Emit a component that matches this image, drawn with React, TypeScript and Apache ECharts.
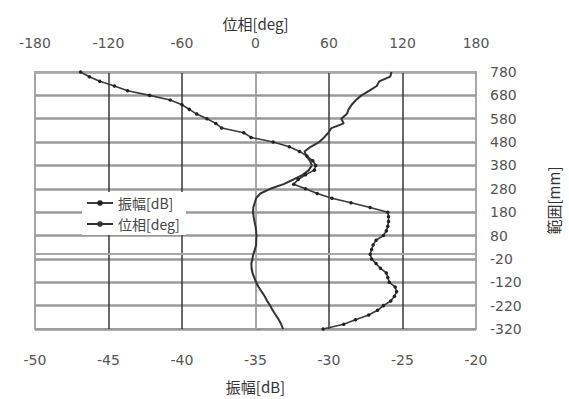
import React, { useEffect, useRef } from "react";
import * as echarts from "echarts";

const rangeMm = [
  780, 760, 740, 720, 700, 680, 660, 640, 620, 600,
  580, 560, 540, 520, 500, 480, 460, 440, 420, 400,
  380, 360, 340, 320, 300, 280, 260, 240, 220, 200,
  180, 160, 140, 120, 100, 80, 60, 40, 20, 0,
  -20, -40, -60, -80, -100, -120, -140, -160, -180, -200,
  -220, -240, -260, -280, -300, -320,
];

const amplitudeDb = [
  -46.9, -46.3, -45.6, -44.6, -43.7, -42.2, -40.8, -40.0, -39.5, -39.0,
  -38.3, -37.7, -37.3, -35.8, -35.3, -33.8, -32.7, -32.0, -31.5, -31.1,
  -30.9, -31.0, -31.6, -32.1, -32.4, -31.6, -30.8, -29.8, -28.5, -27.2,
  -26.0, -25.95, -25.95, -26.0, -26.1, -26.3, -26.8, -27.0, -27.1, -27.2,
  -27.1, -26.8, -26.5, -26.1, -26.0, -25.9, -25.5, -25.4, -25.55, -25.8,
  -26.3, -26.7, -27.3, -28.2, -29.0, -30.4,
];

const phaseDeg = [
  111, 110, 101, 99, 93, 86.5, 82, 78.5, 76, 74.5,
  70, 72, 62, 59.5, 56, 52, 45, 40, 41.5, 44.5,
  46, 43.5, 38.5, 31, 23, 12, 4, 0.5, -0.6, -1.8,
  -2, -1.5, -0.8, 0, 0.5, 0.8, 0.6, 0.5, -0.5, -1.8,
  -2.5, -3.4, -3.2, -2.5, -1, 0.5, 2.5, 5, 7.5, 9.5,
  12, 14, 16.5, 19, 21, 22.5,
];

const CJK = "'Noto Sans CJK JP', 'Noto Sans', sans-serif";
const NUM = "'DejaVu Sans', sans-serif";

export default function App() {
  const ref = useRef<HTMLDivElement>(null);
  useEffect(() => {
    if (!ref.current) return;
    const chart = echarts.init(ref.current, null, { renderer: "svg" });
    const labelStyle = { color: "#555", fontSize: 14, fontFamily: NUM };
    const nameStyle = { fontSize: 15, color: "#333", fontFamily: CJK };
    chart.setOption({
      animation: false,
      backgroundColor: "#fff",
      textStyle: { fontFamily: CJK },
      grid: {
        left: 35,
        right: 89,
        top: 72,
        bottom: 69,
        show: true,
        borderColor: "#a8a8a8",
        borderWidth: 2,
      },
      legend: {
        orient: "vertical",
        left: 82,
        top: 192,
        itemWidth: 26,
        itemHeight: 7,
        itemGap: 7,
        padding: [4, 6, 4, 4],
        backgroundColor: "#fff",
        textStyle: { fontSize: 14, color: "#444", fontFamily: CJK },
        data: ["振幅[dB]", "位相[deg]"],
      },
      xAxis: [
        {
          type: "value",
          position: "bottom",
          min: -50,
          max: -20,
          interval: 5,
          name: "振幅[dB]",
          nameLocation: "middle",
          nameGap: 50,
          nameTextStyle: nameStyle,
          axisLine: { show: true, lineStyle: { color: "#a8a8a8", width: 2 } },
          axisTick: { show: false },
          axisLabel: { ...labelStyle, margin: 24 },
          splitLine: {
            show: true,
            showMinLine: false,
            showMaxLine: false,
            lineStyle: { color: "#3a3a3a", width: 1.5 },
          },
        },
        {
          type: "value",
          position: "top",
          min: -180,
          max: 180,
          interval: 60,
          name: "位相[deg]",
          nameLocation: "middle",
          nameGap: 39,
          nameTextStyle: nameStyle,
          axisLine: { show: true, lineStyle: { color: "#a8a8a8", width: 2 } },
          axisTick: { show: false },
          axisLabel: { ...labelStyle, margin: 22 },
          splitLine: { show: false },
        },
      ],
      yAxis: [
        {
          type: "value",
          position: "right",
          min: -320,
          max: 780,
          interval: 100,
          name: "範囲[mm]",
          nameLocation: "middle",
          nameRotate: 90,
          nameGap: 70,
          nameTextStyle: nameStyle,
          axisLine: { show: true, lineStyle: { color: "#a8a8a8", width: 2 } },
          axisTick: { show: true, length: 5, lineStyle: { color: "#888" } },
          axisLabel: { ...labelStyle, margin: 14 },
          splitLine: {
            show: true,
            lineStyle: { color: "#9a9a9a", width: 2.5 },
          },
        },
      ],
      series: [
        {
          name: "振幅[dB]",
          type: "line",
          xAxisIndex: 0,
          yAxisIndex: 0,
          data: rangeMm.map((mm, i) => [amplitudeDb[i], mm]),
          symbol: "circle",
          symbolSize: 3.5,
          showSymbol: true,
          itemStyle: { color: "#222" },
          lineStyle: { color: "#3a3a3a", width: 1.6 },
          z: 3,
        },
        {
          name: "位相[deg]",
          type: "line",
          xAxisIndex: 1,
          yAxisIndex: 0,
          data: rangeMm.map((mm, i) => [phaseDeg[i], mm]),
          symbol: "none",
          itemStyle: { color: "#333" },
          lineStyle: { color: "#333", width: 2 },
          z: 3,
        },
      ],
    });
    return () => chart.dispose();
  }, []);
  return <div ref={ref} style={{ width: 569, height: 399, position: "absolute", left: 0, top: 0 }} />;
}
